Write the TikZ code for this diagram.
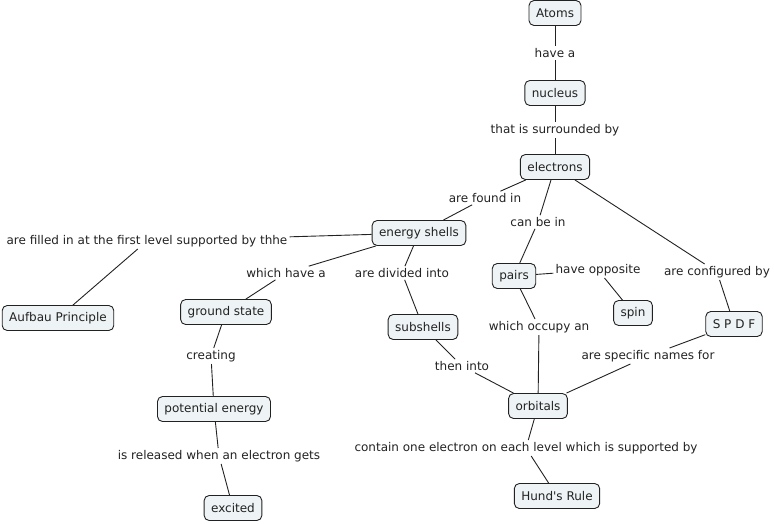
\documentclass[tikz,border=0pt]{standalone}
\usepackage{fontspec}
\setmainfont{DejaVu Sans}
\definecolor{boxfill}{HTML}{EEF3F5}
\definecolor{ink}{HTML}{222222}
\begin{document}
\begin{tikzpicture}[x=1pt,y=-1pt,
  concept/.style={draw=ink, line width=0.9pt, rounded corners=5pt, fill=boxfill,
    minimum height=25pt, inner xsep=7pt, inner ysep=2pt, font=\fontsize{12}{14}\selectfont, text=ink},
  lbl/.style={inner sep=2pt, font=\fontsize{12}{14}\selectfont, text=ink},
  conn/.style={draw=ink, line width=0.9pt}]
\useasboundingbox (0,0) rectangle (774,523);
% concepts
\node[concept] (atoms) at (555,13) {Atoms};
\node[concept] (nucleus) at (555,93) {nucleus};
\node[concept] (electrons) at (555,167) {electrons};
\node[concept] (shells) at (419,233) {energy shells};
\node[concept] (aufbau) at (58,318) {Aufbau Principle};
\node[concept] (ground) at (226,312) {ground state};
\node[concept] (subshells) at (423,327) {subshells};
\node[concept] (pairs) at (514,276) {pairs};
\node[concept] (spin) at (633,313) {spin};
\node[concept] (spdf) at (734,324) {S P D F};
\node[concept] (orbitals) at (538,406) {orbitals};
\node[concept] (potential) at (214,409) {potential energy};
\node[concept] (excited) at (233,508) {excited};
\node[concept] (hund) at (557,496) {Hund\textquotesingle s Rule};
% linking phrases
\node[lbl] (l1) at (555,53) {have a};
\node[lbl] (l2) at (555,130) {that is surrounded by};
\node[lbl] (l3) at (485,198) {are found in};
\node[lbl] (l4) at (538,222) {can be in};
\node[lbl] (l5) at (717,272) {are configured by};
\node[lbl] (l6) at (147,241) {are filled in at the first level supported by thhe};
\node[lbl] (l7) at (286,273) {which have a};
\node[lbl] (l8) at (402,273) {are divided into};
\node[lbl] (l9) at (598,270) {have opposite};
\node[lbl] (l10) at (539,327) {which occupy an};
\node[lbl] (l11) at (211,356) {creating};
\node[lbl] (l12) at (462,366) {then into};
\node[lbl] (l13) at (648,356) {are specific names for};
\node[lbl] (l14) at (219,456) {is released when an electron gets};
\node[lbl] (l15) at (526,448) {contain one electron on each level which is supported by};
% connectors
\draw[conn] (atoms) -- (l1); \draw[conn] (l1) -- (nucleus);
\draw[conn] (nucleus) -- (l2); \draw[conn] (l2) -- (electrons);
\draw[conn] (electrons) -- (l3); \draw[conn] (l3) -- (shells);
\draw[conn] (electrons) -- (l4); \draw[conn] (l4) -- (pairs);
\draw[conn] (electrons) -- (l5); \draw[conn] (l5) -- (spdf);
\draw[conn] (shells) -- (l6); \draw[conn] (l6) -- (aufbau);
\draw[conn] (shells) -- (l7); \draw[conn] (l7) -- (ground);
\draw[conn] (shells) -- (l8); \draw[conn] (l8) -- (subshells);
\draw[conn] (pairs) -- (l9); \draw[conn] (l9) -- (spin);
\draw[conn] (pairs) -- (l10); \draw[conn] (l10) -- (orbitals);
\draw[conn] (ground) -- (l11); \draw[conn] (l11) -- (potential);
\draw[conn] (subshells) -- (l12); \draw[conn] (l12) -- (orbitals);
\draw[conn] (spdf) -- (l13); \draw[conn] (l13) -- (orbitals);
\draw[conn] (potential) -- (l14); \draw[conn] (l14) -- (excited);
\draw[conn] (orbitals) -- (l15); \draw[conn] (l15) -- (hund);
\end{tikzpicture}
\end{document}
